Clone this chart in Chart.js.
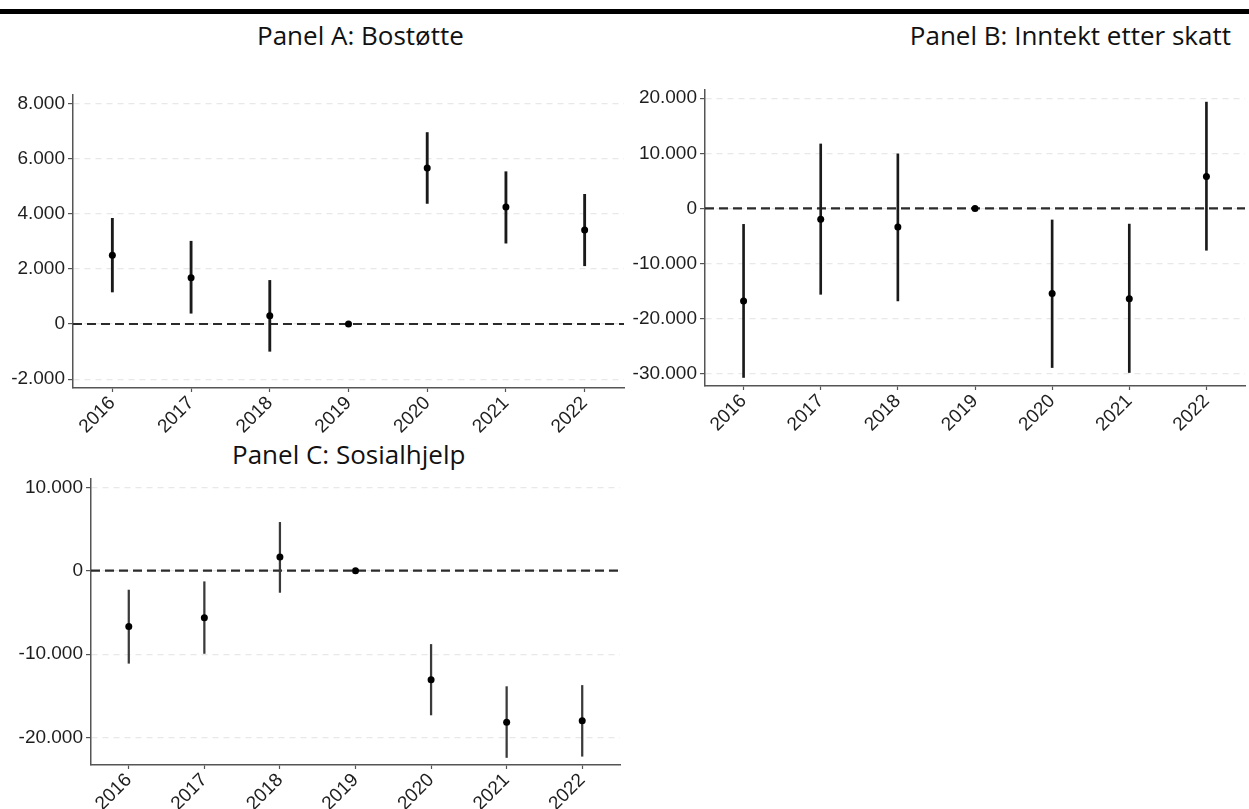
<!DOCTYPE html>
<html>
<head>
<meta charset="utf-8">
<script src="https://cdn.jsdelivr.net/npm/chart.js@4.4.1/dist/chart.umd.min.js"></script>
<style>
  body { margin: 0; background: #fff; width: 1249px; height: 809px; overflow: hidden; position: relative; }
  .topline { position: absolute; left: 0; top: 9px; width: 1249px; height: 5px; background: #000; }
  .ptitle { position: absolute; font-family: "Open Sans", "Noto Sans", sans-serif; font-size: 26px; color: #111; white-space: nowrap; }
  .panel { position: absolute; }
</style>
</head>
<body>
<div class="topline"></div>
<div class="ptitle" style="left:257px; top:17px;">Panel A: Bostøtte</div>
<div class="ptitle" style="right:18px; top:17px;">Panel B: Inntekt etter skatt</div>
<div class="ptitle" style="left:232px; top:436px;">Panel C: Sosialhjelp</div>

<div class="panel" style="left:0px; top:78px;"><canvas id="chartA" width="630" height="356"></canvas></div>
<div class="panel" style="left:630px; top:73px;"><canvas id="chartB" width="619" height="359"></canvas></div>
<div class="panel" style="left:0px; top:462px;"><canvas id="chartC" width="630" height="347"></canvas></div>

<script>
// years on x axis
const years = ['2016', '2017', '2018', '2019', '2020', '2021', '2022'];

// Panel A: Bostøtte
const bostottePoint = [2490, 1680, 300, 0, 5650, 4240, 3410];
const bostotteLow = [1160, 390, -990, 0, 4370, 2930, 2110];
const bostotteHigh = [3830, 3000, 1580, 0, 6940, 5520, 4700];
const bostotteTicks = [-2000, 0, 2000, 4000, 6000, 8000];

// Panel B: Inntekt etter skatt
const inntektPoint = [-16800, -1950, -3400, 0, -15450, -16400, 5800];
const inntektLow = [-30700, -15600, -16800, 0, -28900, -29800, -7600];
const inntektHigh = [-2900, 11700, 9900, 0, -2100, -2850, 19300];
const inntektTicks = [-30000, -20000, -10000, 0, 10000, 20000];

// Panel C: Sosialhjelp
const sosialPoint = [-6680, -5640, 1640, 0, -13080, -18160, -18000];
const sosialLow = [-11100, -9920, -2600, 0, -17300, -22400, -22250];
const sosialHigh = [-2320, -1320, 5800, 0, -8840, -13900, -13760];
const sosialTicks = [-20000, -10000, 0, 10000];

function fmt(v) {
    return String(v).replace(/\B(?=(\d{3})+(?!\d))/g, '.');
}

const zeroLine = {
    id: 'zeroLine',
    beforeDatasetsDraw(chart) {
        const y = chart.scales.y.getPixelForValue(0);
        const area = chart.chartArea;
        const ctx = chart.ctx;
        ctx.save();
        ctx.strokeStyle = '#2b2b2b';
        ctx.lineWidth = 2.2;
        ctx.setLineDash([9, 5]);
        ctx.beginPath();
        ctx.moveTo(area.left, y);
        ctx.lineTo(area.right, y);
        ctx.stroke();
        ctx.restore();
    }
};

function makePanel(id, point, low, high, ticks, cfg) {
    const ctx = document.getElementById(id).getContext('2d');
    return new Chart(ctx, {
        type: 'bar',
        data: {
            labels: years,
            datasets: [
                {
                    type: 'line',
                    data: point,
                    showLine: false,
                    pointRadius: 3.5,
                    pointBackgroundColor: '#000',
                    pointBorderWidth: 0,
                    order: 0
                },
                {
                    type: 'bar',
                    data: low.map((l, i) => [l, high[i]]),
                    backgroundColor: cfg.barColor,
                    barThickness: cfg.barWidth,
                    borderWidth: 0,
                    borderSkipped: false,
                    order: 1
                }
            ]
        },
        options: {
            responsive: false,
            devicePixelRatio: 1,
            animation: false,
            // top padding larger than the label overhang so the plot top is fixed
            layout: { padding: { top: 17, right: cfg.padRight, left: 0, bottom: 0 } },
            plugins: { legend: { display: false }, tooltip: { enabled: false } },
            scales: {
                x: {
                    offset: true,
                    grid: { drawOnChartArea: false, drawTicks: true, tickLength: 4, tickColor: '#555', tickWidth: 1.2, offset: false },
                    border: { display: true, color: '#555', width: 1.5 },
                    ticks: {
                        color: '#1e1e1e',
                        font: { family: '"Liberation Sans", Arial, sans-serif', size: 19 },
                        maxRotation: 45,
                        minRotation: 45,
                        padding: 0
                    },
                    afterFit(scale) { scale.height = cfg.xHeight; }
                },
                y: {
                    min: cfg.min,
                    max: cfg.max,
                    afterBuildTicks(axis) { axis.ticks = ticks.map(v => ({ value: v })); },
                    grid: { color: '#e8e8e8', lineWidth: 1.2, drawTicks: true, tickLength: 5, tickColor: '#555', tickWidth: 1.2 },
                    border: { display: true, color: '#555', width: 1.5, dash: [6, 5] },
                    ticks: {
                        color: '#1e1e1e',
                        font: { family: '"Liberation Sans", Arial, sans-serif', size: 19 },
                        padding: 3,
                        callback: v => fmt(v)
                    },
                    afterFit(scale) { scale.width = cfg.yWidth; }
                }
            }
        },
        plugins: [zeroLine]
    });
}

makePanel('chartA', bostottePoint, bostotteLow, bostotteHigh, bostotteTicks,
    { min: -2320, max: 8300, padRight: 6, xHeight: 46, yWidth: 73, barWidth: 2.2, barColor: '#1a1a1a' });
makePanel('chartB', inntektPoint, inntektLow, inntektHigh, inntektTicks,
    { min: -32250, max: 21500, padRight: 0, xHeight: 46, yWidth: 75, barWidth: 2, barColor: '#1a1a1a' });
makePanel('chartC', sosialPoint, sosialLow, sosialHigh, sosialTicks,
    { min: -23300, max: 11000, padRight: 10, xHeight: 44, yWidth: 91, barWidth: 1.6, barColor: '#3a3a3a' });
</script>
</body>
</html>
